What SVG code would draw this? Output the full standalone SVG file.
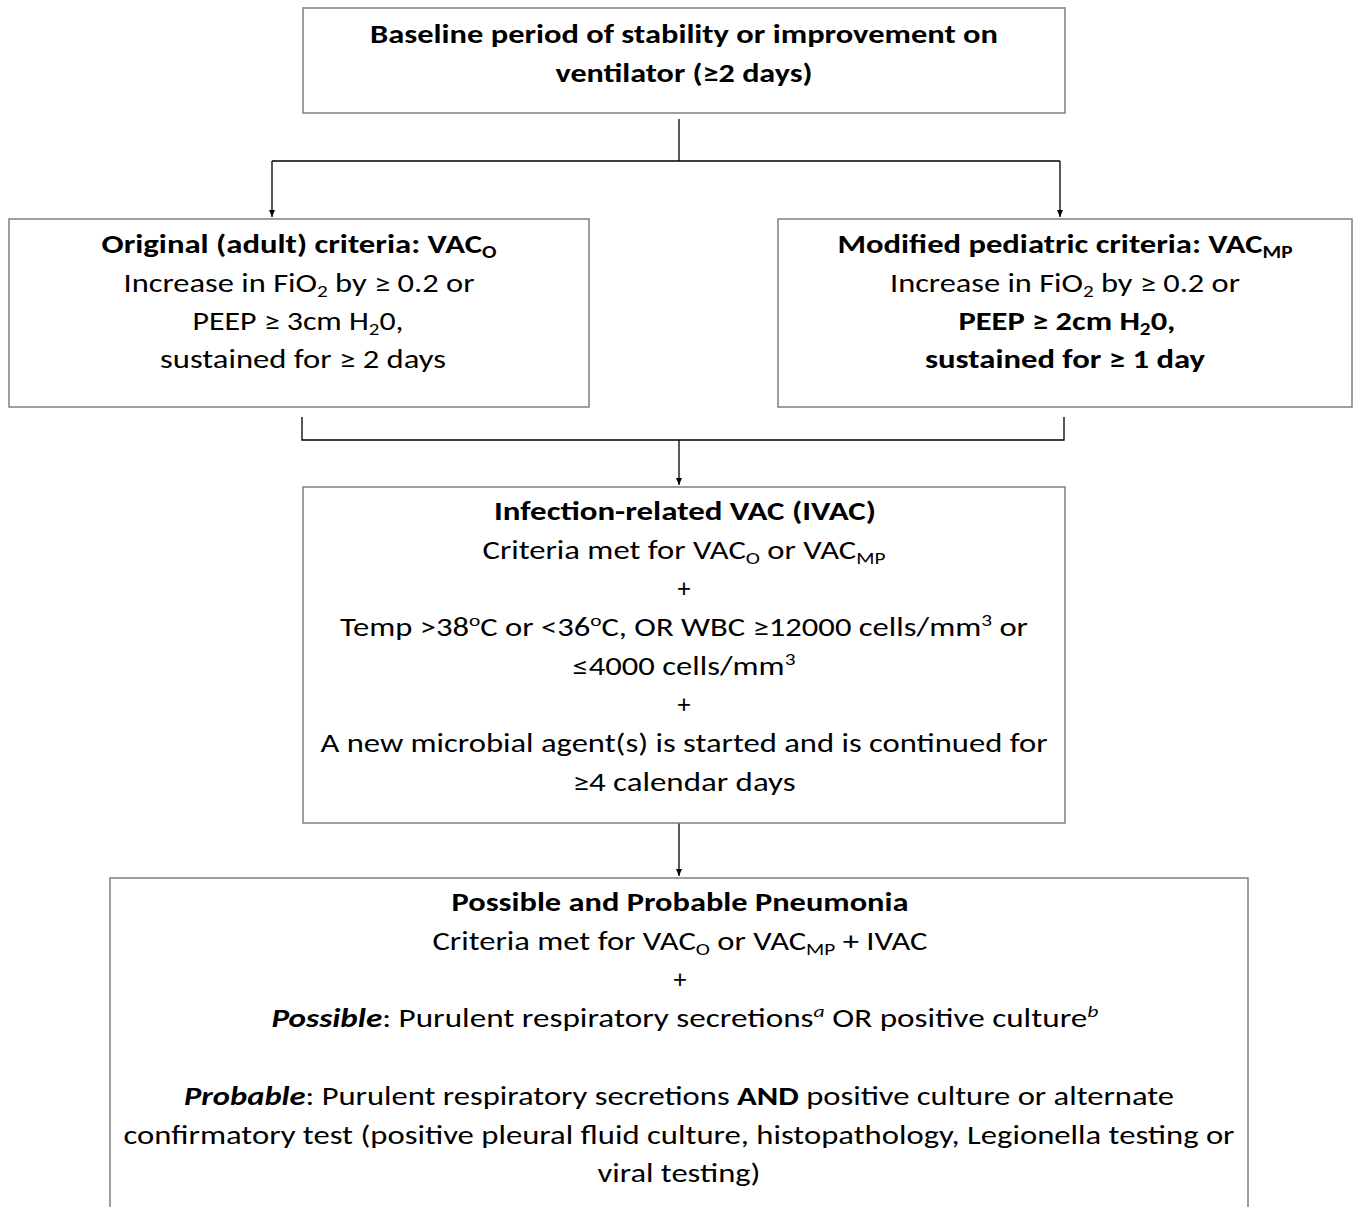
<svg xmlns="http://www.w3.org/2000/svg" width="1355" height="1207" viewBox="0 0 1355 1207">
<style>
.box{fill:#fff;stroke:#7f7f7f;stroke-width:1.5}
.ln{fill:none;stroke:#000;stroke-width:1.3}
text{font-family:Carlito,"Open Sans","Liberation Sans",sans-serif;font-size:26px;fill:#000;text-anchor:middle}
.b{font-weight:bold}
.sub{font-size:17px}
</style>
<defs>
<marker id="ah" markerWidth="8" markerHeight="8" refX="7" refY="4" orient="auto" markerUnits="userSpaceOnUse">
<path d="M0,1 L7,4 L0,7 Z" fill="#000"/>
</marker>
</defs>
<rect width="1355" height="1207" fill="#fff"/>
<g id="connectors">
<path class="ln" d="M679,119 V161"/>
<path class="ln" d="M272,161 H1060"/>
<path class="ln" d="M272,161 V217" marker-end="url(#ah)"/>
<path class="ln" d="M1060,161 V217" marker-end="url(#ah)"/>
<path class="ln" d="M302,417 V440 H1064 V417"/>
<path class="ln" d="M679,440 V485" marker-end="url(#ah)"/>
<path class="ln" d="M679,823 V876" marker-end="url(#ah)"/>
</g>
<g id="baseline">
<rect class="box" x="303" y="8" width="762" height="105"/>
<text class="b" x="684" y="43" textLength="628" lengthAdjust="spacingAndGlyphs">Baseline period of stability or improvement on</text>
<text class="b" x="684" y="82" textLength="257" lengthAdjust="spacingAndGlyphs">ventilator (≥2 days)</text>
</g>
<g id="original">
<rect class="box" x="9" y="219" width="580" height="188"/>
<text class="b" x="299" y="253" textLength="395" lengthAdjust="spacingAndGlyphs">Original (adult) criteria: VAC<tspan class="sub" dy="5">O</tspan></text>
<text x="299" y="292" textLength="351" lengthAdjust="spacingAndGlyphs">Increase in FiO<tspan class="sub" dy="5">2</tspan><tspan dy="-5"> by ≥ 0.2 or</tspan></text>
<text x="298" y="330" textLength="211" lengthAdjust="spacingAndGlyphs">PEEP ≥ 3cm H<tspan class="sub" dy="5">2</tspan><tspan dy="-5">0,</tspan></text>
<text x="303" y="368" textLength="286" lengthAdjust="spacingAndGlyphs">sustained for ≥ 2 days</text>
</g>
<g id="pediatric">
<rect class="box" x="778" y="219" width="574" height="188"/>
<text class="b" x="1065" y="253" textLength="455" lengthAdjust="spacingAndGlyphs">Modified pediatric criteria: VAC<tspan class="sub" dy="5">MP</tspan></text>
<text x="1065" y="292" textLength="350" lengthAdjust="spacingAndGlyphs">Increase in FiO<tspan class="sub" dy="5">2</tspan><tspan dy="-5"> by ≥ 0.2 or</tspan></text>
<text class="b" x="1067" y="330" textLength="217" lengthAdjust="spacingAndGlyphs">PEEP ≥ 2cm H<tspan class="sub" dy="5">2</tspan><tspan dy="-5">0,</tspan></text>
<text class="b" x="1065" y="368" textLength="280" lengthAdjust="spacingAndGlyphs">sustained for ≥ 1 day</text>
</g>
<g id="ivac">
<rect class="box" x="303" y="487" width="762" height="336"/>
<text class="b" x="685" y="520" textLength="382" lengthAdjust="spacingAndGlyphs">Infection-related VAC (IVAC)</text>
<text x="684" y="559" textLength="403" lengthAdjust="spacingAndGlyphs">Criteria met for VAC<tspan class="sub" dy="5">O</tspan><tspan dy="-5"> or VAC</tspan><tspan class="sub" dy="5">MP</tspan></text>
<text x="684" y="597">+</text>
<text x="684" y="636" textLength="688" lengthAdjust="spacingAndGlyphs">Temp &gt;38<tspan class="sub" dy="-10">o</tspan><tspan dy="10">C or &lt;36</tspan><tspan class="sub" dy="-10">o</tspan><tspan dy="10">C, OR WBC ≥12000 cells/mm</tspan><tspan class="sub" dy="-10">3</tspan><tspan dy="10"> or</tspan></text>
<text x="684" y="675" textLength="223" lengthAdjust="spacingAndGlyphs">≤4000 cells/mm<tspan class="sub" dy="-10">3</tspan></text>
<text x="684" y="713">+</text>
<text x="684" y="752" textLength="727" lengthAdjust="spacingAndGlyphs">A new microbial agent(s) is started and is continued for</text>
<text x="684" y="791" textLength="223" lengthAdjust="spacingAndGlyphs">≥4 calendar days</text>
</g>
<g id="pneumonia">
<rect class="box" x="110" y="878" width="1138" height="340"/>
<text class="b" x="680" y="911" textLength="457" lengthAdjust="spacingAndGlyphs">Possible and Probable Pneumonia</text>
<text x="680" y="950" textLength="495" lengthAdjust="spacingAndGlyphs">Criteria met for VAC<tspan class="sub" dy="5">O</tspan><tspan dy="-5"> or VAC</tspan><tspan class="sub" dy="5">MP</tspan><tspan dy="-5"> + IVAC</tspan></text>
<text x="680" y="988">+</text>
<text x="685" y="1027" textLength="827" lengthAdjust="spacingAndGlyphs"><tspan class="b" font-style="italic">Possible</tspan>: Purulent respiratory secretions<tspan class="sub" font-style="italic" dy="-10">a</tspan><tspan dy="10"> OR positive culture</tspan><tspan class="sub" font-style="italic" dy="-10">b</tspan></text>
<text x="679" y="1105" textLength="990" lengthAdjust="spacingAndGlyphs"><tspan class="b" font-style="italic">Probable</tspan>: Purulent respiratory secretions <tspan class="b">AND</tspan> positive culture or alternate</text>
<text x="679" y="1144" textLength="1111" lengthAdjust="spacingAndGlyphs">confirmatory test (positive pleural fluid culture, histopathology, Legionella testing or</text>
<text x="679" y="1182" textLength="163" lengthAdjust="spacingAndGlyphs">viral testing)</text>
</g>
</svg>
